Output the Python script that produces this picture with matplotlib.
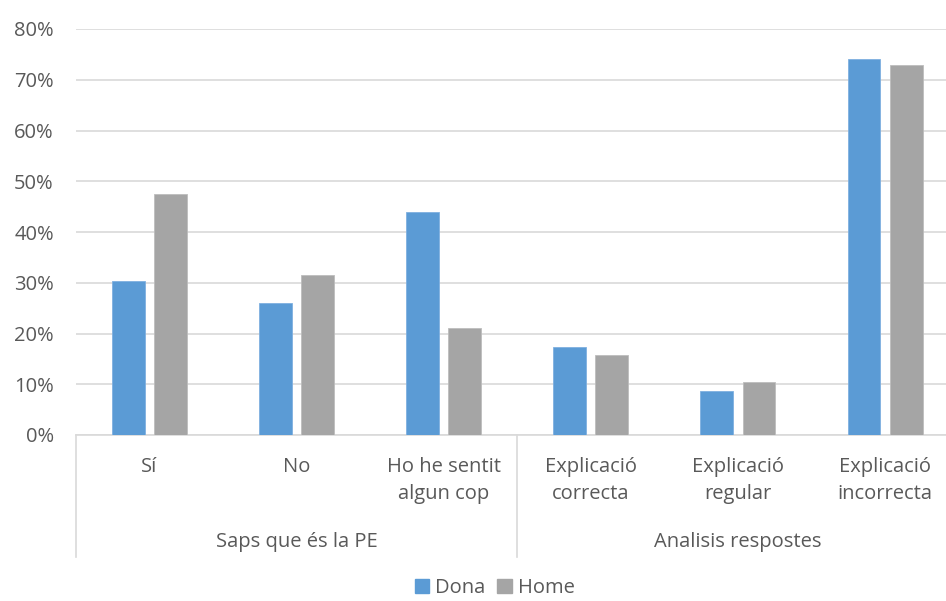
import numpy as np
import matplotlib.pyplot as plt
from matplotlib.patches import Patch

categories = ["Sí", "No", "Ho he sentit\nalgun cop",
              "Explicació\ncorrecta", "Explicació\nregular", "Explicació\nincorrecta"]
groups = ["Saps que és la PE", "Analisis respostes"]
group_sizes = [3, 3]
dona = [30.3, 26.1, 44.0, 17.3, 8.6, 74.0]
home = [47.4, 31.5, 21.0, 15.7, 10.5, 73.0]
yticks = [0, 10, 20, 30, 40, 50, 60, 70, 80]

txt = "#595959"
grid = "#d9d9d9"
fs = 14.5
plt.rcParams['font.family'] = ['Open Sans', 'DejaVu Sans']

fig = plt.figure(figsize=(9.46, 6.01), dpi=100)
# the plot area runs a little past the right edge, as in the original crop
ax = fig.add_axes([76 / 946, 1 - 435 / 601, 882.6 / 946, 406 / 601])

x = np.arange(len(categories))
w = 0.224
ax.bar(x - 0.143, dona, w, color="#5b9bd5", edgecolor="#7fb0e0", linewidth=0.6, zorder=3)
ax.bar(x + 0.143, home, w, color="#a5a5a5", edgecolor="#bdbdbd", linewidth=0.6, zorder=3)

ax.set_xlim(-0.5, len(categories) - 0.5)
ax.set_ylim(0, 80)
ax.set_yticks(yticks)
ax.set_yticklabels([f"{v}%" for v in yticks], color=txt, fontsize=fs)
ax.tick_params(axis="y", length=0, pad=16)
ax.set_xticks([])
ax.grid(axis="y", color=grid, linewidth=1.2, zorder=0)
for s in ["top", "right", "left"]:
    ax.spines[s].set_visible(False)
ax.spines["bottom"].set_color(grid)
ax.spines["bottom"].set_linewidth(1.2)

tr = ax.get_xaxis_transform()
# group separators under the axis
edges = np.concatenate([[0], np.cumsum(group_sizes)]) - 0.5
for e in edges[:-1]:
    ax.plot([e, e], [0, -0.30], transform=tr, color=grid, lw=1.2, clip_on=False)

for i, c in enumerate(categories):
    ax.text(i, -0.054, c, transform=tr, ha="center", va="top", color=txt,
            fontsize=fs, linespacing=1.45)

for g, (a, b) in zip(groups, zip(edges[:-1], edges[1:])):
    ax.text((a + b) / 2, -0.263, g, transform=tr, ha="center", va="center",
            color=txt, fontsize=fs)

handles = [Patch(color="#5b9bd5", label="Dona"), Patch(color="#a5a5a5", label="Home")]
fig.legend(handles=handles, loc="center", bbox_to_anchor=(0.523, 0.022), ncol=2,
           frameon=False, fontsize=fs, labelcolor=txt, handlelength=0.7,
           handleheight=0.7, handletextpad=0.3, columnspacing=0.6,
           borderaxespad=0, borderpad=0.1)

fig.savefig("out.png", dpi=100)
